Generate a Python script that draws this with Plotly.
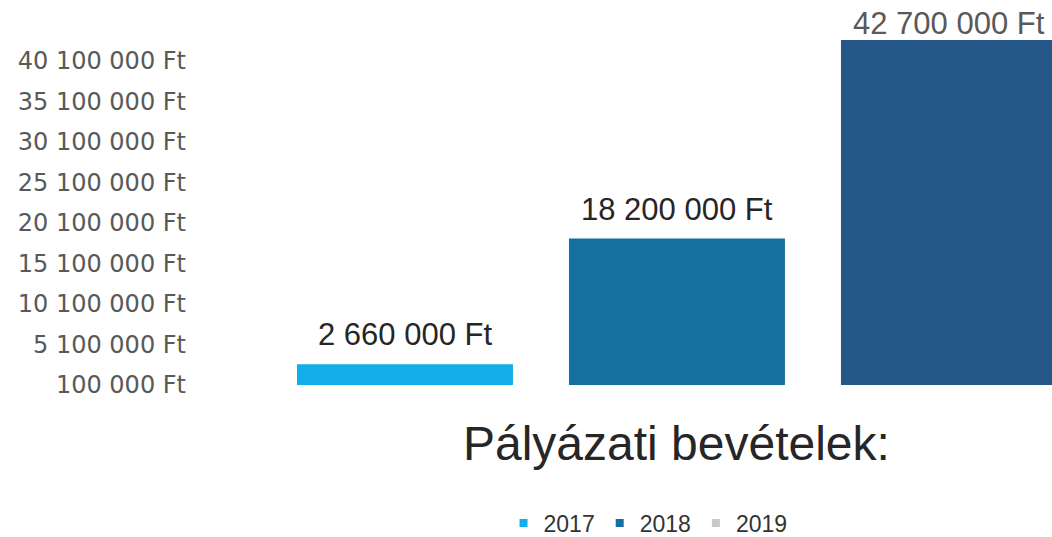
import plotly.graph_objects as go

# Pályázati bevételek (Ft)
years = ["2017", "2018", "2019"]
revenue = [2_660_000, 18_200_000, 42_700_000]
bar_colors = ["#12AEEA", "#15709F", "#255688"]
legend_colors = ["#12AEEA", "#15709F", "#C9C9C9"]
label_colors = ["#262626", "#262626", "#595959"]
label_shift = [10, 9, -3]

tick_vals = [100_000 + 5_000_000 * k for k in range(9)]


def ft(v):
    return f"{v:,}".replace(",", " ") + " Ft"


fig = go.Figure()

fig.add_trace(go.Bar(
    x=years,
    y=revenue,
    marker=dict(color=bar_colors, line=dict(width=0)),
    showlegend=False,
    hoverinfo="x+y",
))

# legend-only entries (2019 is grey in the original legend)
for yr, col in zip(years, legend_colors):
    fig.add_trace(go.Scatter(
        x=[None], y=[None], mode="markers", name=yr,
        marker=dict(symbol="square", size=8, color=col),
    ))

# value labels; category axis annotations take the category index
for i, (val, col, dy) in enumerate(zip(revenue, label_colors, label_shift)):
    fig.add_annotation(
        x=i, y=val, text=ft(val), showarrow=False,
        yanchor="bottom", yshift=dy,
        font=dict(family="Liberation Sans, Arial", size=31, color=col),
    )

fig.update_layout(
    width=1052,
    height=537,
    paper_bgcolor="white",
    plot_bgcolor="white",
    margin=dict(l=195, r=0, t=20, b=152, autoexpand=False),
    bargap=0.206,
    title=dict(
        text="Pályázati bevételek:",
        font=dict(family="Liberation Sans, Arial", size=48, color="#262626"),
        xref="container", x=0.643, xanchor="center",
        yref="container", y=0.175, yanchor="middle",
    ),
    legend=dict(
        orientation="h",
        xref="container", x=0.616, xanchor="center",
        yref="container", y=0.026, yanchor="middle",
        font=dict(family="Liberation Sans, Arial", size=23, color="#333333"),
        itemwidth=30,
        traceorder="normal",
    ),
    xaxis=dict(
        type="category",
        range=[-0.772, 2.379],
        showticklabels=False,
        showgrid=False,
        zeroline=False,
        showline=False,
    ),
    yaxis=dict(
        range=[100_000, 45_160_000],
        tickvals=tick_vals,
        ticktext=[ft(v) for v in tick_vals],
        tickfont=dict(family="DejaVu Sans", size=24, color="#595959"),
        ticklabelstandoff=8,
        showgrid=False,
        zeroline=False,
        showline=False,
        ticks="",
    ),
)

# drop the default body margin so the figure sits at the page corner
fig.write_html(
    "out.html",
    config={"displayModeBar": False},
    post_script="document.body.style.margin='0';",
)
